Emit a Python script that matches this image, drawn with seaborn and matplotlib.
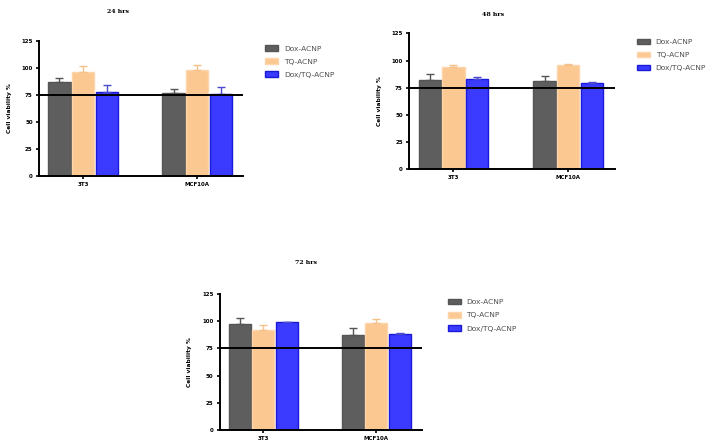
import numpy as np
import pandas as pd
import matplotlib
matplotlib.use("Agg")
import matplotlib.pyplot as plt
import seaborn as sns

cells = ["3T3", "MCF10A"]
treatments = ["Dox-ACNP", "TQ-ACNP", "Dox/TQ-ACNP"]
times = ["24 hrs", "48 hrs", "72 hrs"]

# mean viability per time point, order: treatment x cell line
mean_24 = {"Dox-ACNP": [86.5, 77.0], "TQ-ACNP": [96.5, 98.5], "Dox/TQ-ACNP": [78.0, 76.0]}
err_24 = {"Dox-ACNP": [3.8, 3.0], "TQ-ACNP": [5.6, 4.5], "Dox/TQ-ACNP": [6.3, 6.6]}
mean_48 = {"Dox-ACNP": [82.0, 81.0], "TQ-ACNP": [93.7, 95.8], "Dox/TQ-ACNP": [82.6, 78.9]}
err_48 = {"Dox-ACNP": [5.2, 4.3], "TQ-ACNP": [1.8, 0.6], "Dox/TQ-ACNP": [1.9, 1.6]}
mean_72 = {"Dox-ACNP": [97.4, 87.3], "TQ-ACNP": [91.9, 98.6], "Dox/TQ-ACNP": [99.0, 87.9]}
err_72 = {"Dox-ACNP": [5.8, 6.1], "TQ-ACNP": [4.3, 3.7], "Dox/TQ-ACNP": [0.4, 1.6]}

threshold = 75

fill_colors = {"Dox-ACNP": "#5e5e5e", "TQ-ACNP": "#fcc892", "Dox/TQ-ACNP": "#3b3bff"}
edge_colors = {"Dox-ACNP": "#555555", "TQ-ACNP": "#fdd5ab", "Dox/TQ-ACNP": "#1a1ad8"}
err_colors = {"Dox-ACNP": "#555555", "TQ-ACNP": "#f6c08a", "Dox/TQ-ACNP": "#4a4ad0"}

fig = plt.figure(figsize=(7.09, 4.45), dpi=100)

panels = [
    (times[0], mean_24, err_24, [0.055, 0.605, 0.288, 0.303], (0.370, 0.905), (0.167, 0.975)),
    (times[1], mean_48, err_48, [0.577, 0.620, 0.290, 0.305], (0.894, 0.920), (0.695, 0.968)),
    (times[2], mean_72, err_72, [0.310, 0.034, 0.285, 0.305], (0.627, 0.335), (0.432, 0.410)),
]


def draw_panel(title, means, errs, rect, leg_pos, title_pos):
    rows = []
    for t in treatments:
        for c, m, e in zip(cells, means[t], errs[t]):
            rows.append({"cell": c, "treatment": t, "viability": m, "err": e})
    df = pd.DataFrame(rows)

    ax = fig.add_axes(rect)
    sns.barplot(data=df, x="cell", y="viability", hue="treatment", order=cells,
                hue_order=treatments, palette=fill_colors, saturation=1, width=0.62,
                gap=0.06, errorbar=None, ax=ax, linewidth=1.0)

    # edges + one-sided error bars, matched from the bar containers
    for t, cont in zip(treatments, ax.containers):
        for bar, e in zip(cont, df[df.treatment == t]["err"]):
            bar.set_edgecolor(edge_colors[t])
            xc = bar.get_x() + bar.get_width() / 2
            top = bar.get_height()
            ax.errorbar([xc], [top], yerr=[[0], [e]], fmt="none", ecolor=err_colors[t],
                        elinewidth=1.0, capsize=3, capthick=1.0, zorder=3)

    ax.axhline(threshold, color="black", lw=1.4, zorder=4)

    ax.set_xlim(-0.386, 1.404)
    ax.set_ylim(0, 125)
    ax.set_yticks([0, 25, 50, 75, 100, 125])
    sns.despine(ax=ax)
    for s in ["left", "bottom"]:
        ax.spines[s].set_linewidth(1.4)
    ax.tick_params(axis="both", length=2.5, width=1.2, labelsize=4, pad=2)
    for lab in ax.get_xticklabels() + ax.get_yticklabels():
        lab.set_fontweight("bold")
    ax.set_xlabel("")
    ax.set_ylabel("Cell viability %", fontsize=4.2, fontweight="bold", labelpad=7)

    handles, labels = ax.get_legend_handles_labels()
    for h, t in zip(handles, treatments):
        h.set_edgecolor(edge_colors[t])
    ax.legend(handles, labels, loc="upper left", bbox_to_anchor=leg_pos,
              bbox_transform=fig.transFigure, frameon=False, fontsize=5.4,
              handlelength=1.75, handleheight=0.75, handletextpad=0.75,
              labelspacing=0.9, labelcolor="#505050", borderaxespad=0)

    fig.text(title_pos[0], title_pos[1], title, ha="center", va="center",
             fontsize=4.5, fontweight="bold", family="DejaVu Serif")


for title, means, errs, rect, leg_pos, title_pos in panels:
    draw_panel(title, means, errs, rect, leg_pos, title_pos)

fig.savefig("out.png", dpi=100)
